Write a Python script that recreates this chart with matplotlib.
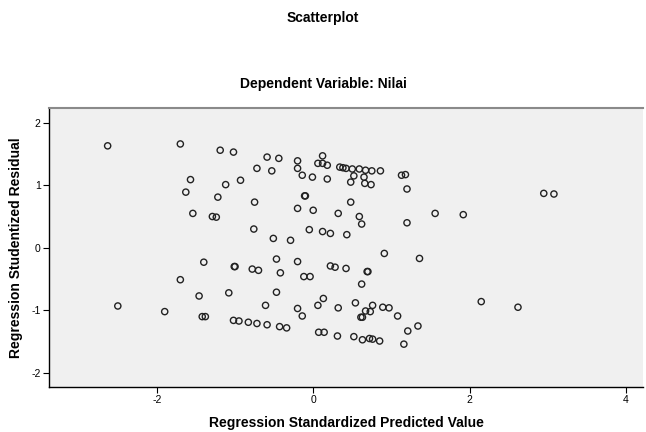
import matplotlib.pyplot as plt

plt.rcParams.update({
    'font.family': 'Liberation Sans',
    'font.size': 8,
    'axes.unicode_minus': False,
})

# Regression Standardized Predicted Value (x) vs Studentized Residual (y)
pred = [
    -2.63, -1.70, -1.19, -1.02, -0.72, -1.57, -0.93, -1.12, -1.63, -1.22,
    -0.75, -1.54, -1.29, -1.24, -0.76, -0.59, -0.44, -0.20, 0.12, -0.53,
    -0.20, 0.06, 0.12, 0.18, -0.14, -0.01, 0.18, 0.34, 0.38, 0.42,
    0.50, 0.59, 0.67, 0.75, 0.86, 0.52, 0.65, 0.48, 0.66, 0.74,
    1.13, 1.18, 1.20, -0.11, -0.10, -0.20, 0.00, 0.48, 0.32, 0.59,
    0.62, 1.56, 1.20, -0.05, 0.12, 0.22, 0.43, -0.51, -0.29, 2.95,
    3.08, 1.92, -1.40, -1.01, -1.00, -0.78, -0.70, -1.70, -1.46, -1.08,
    -2.50, -1.90, -1.42, -1.38, -1.02, -0.95, -0.83, -0.72, 0.91, 1.36,
    -0.47, -0.20, -0.42, -0.12, -0.04, 0.22, 0.28, 0.42, 0.69, 0.70,
    0.62, -0.47, -0.61, -0.20, -0.14, 0.13, 0.06, 0.32, 0.54, 0.76,
    0.67, 0.73, 0.61, 0.63, 0.89, 0.97, 1.08, -0.59, -0.43, -0.34,
    0.07, 0.14, 0.31, 0.52, 0.63, 0.72, 0.76, 0.85, 1.16, 1.21,
    1.34, 2.15, 2.62,
]
resid = [
    1.63, 1.66, 1.56, 1.53, 1.27, 1.09, 1.08, 1.01, 0.89, 0.81,
    0.73, 0.55, 0.50, 0.49, 0.30, 1.45, 1.43, 1.39, 1.47, 1.23,
    1.27, 1.35, 1.35, 1.32, 1.16, 1.13, 1.10, 1.29, 1.28, 1.27,
    1.26, 1.26, 1.24, 1.23, 1.23, 1.15, 1.13, 1.05, 1.03, 1.01,
    1.16, 1.17, 0.94, 0.83, 0.83, 0.63, 0.60, 0.73, 0.55, 0.50,
    0.38, 0.55, 0.40, 0.29, 0.26, 0.23, 0.21, 0.15, 0.12, 0.87,
    0.86, 0.53, -0.23, -0.30, -0.30, -0.34, -0.36, -0.51, -0.77, -0.72,
    -0.93, -1.02, -1.10, -1.10, -1.16, -1.17, -1.19, -1.21, -0.09, -0.17,
    -0.18, -0.22, -0.40, -0.46, -0.46, -0.29, -0.31, -0.33, -0.38, -0.38,
    -0.58, -0.71, -0.92, -0.97, -1.09, -0.81, -0.92, -0.96, -0.88, -0.92,
    -1.01, -1.02, -1.11, -1.11, -0.95, -0.96, -1.09, -1.23, -1.26, -1.28,
    -1.35, -1.35, -1.41, -1.42, -1.47, -1.45, -1.46, -1.49, -1.54, -1.33,
    -1.25, -0.86, -0.95,
]

x_ticks = [-2, 0, 2, 4]
y_ticks = [-2, -1, 0, 1, 2]

fig = plt.figure(figsize=(6.46, 4.32), dpi=100)
ax = fig.add_axes([0.0759, 0.1049, 0.9195, 0.6444])
ax.set_facecolor('#f0f0f0')

ax.scatter(pred, resid, s=20, facecolors='none', edgecolors='#222222',
           linewidths=1.0, zorder=3)

ax.set_xlim(-3.38, 4.22)
ax.set_ylim(-2.22, 2.23)
ax.set_xticks(x_ticks)
ax.set_yticks(y_ticks)
ax.tick_params(direction='out', length=4, width=0.8, colors='black',
               labelsize=7.5, pad=2)

ax.spines['top'].set_color('#8a8a8a')
ax.spines['top'].set_linewidth(1.5)
ax.spines['right'].set_visible(False)
ax.spines['left'].set_linewidth(1.0)
ax.spines['bottom'].set_linewidth(1.0)

ax.set_xlabel('Regression Standardized Predicted Value', fontsize=10,
              fontweight='bold', labelpad=8)
ax.set_ylabel('Regression Studentized Residual', fontsize=10,
              fontweight='bold', labelpad=6)

fig.text(0.5, 0.958, 'Scatterplot', ha='center', va='center',
         fontsize=10, fontweight='bold')
fig.text(0.5, 0.805, 'Dependent Variable: Nilai', ha='center', va='center',
         fontsize=10, fontweight='bold')

fig.savefig('out.png', dpi=100, facecolor='white')
